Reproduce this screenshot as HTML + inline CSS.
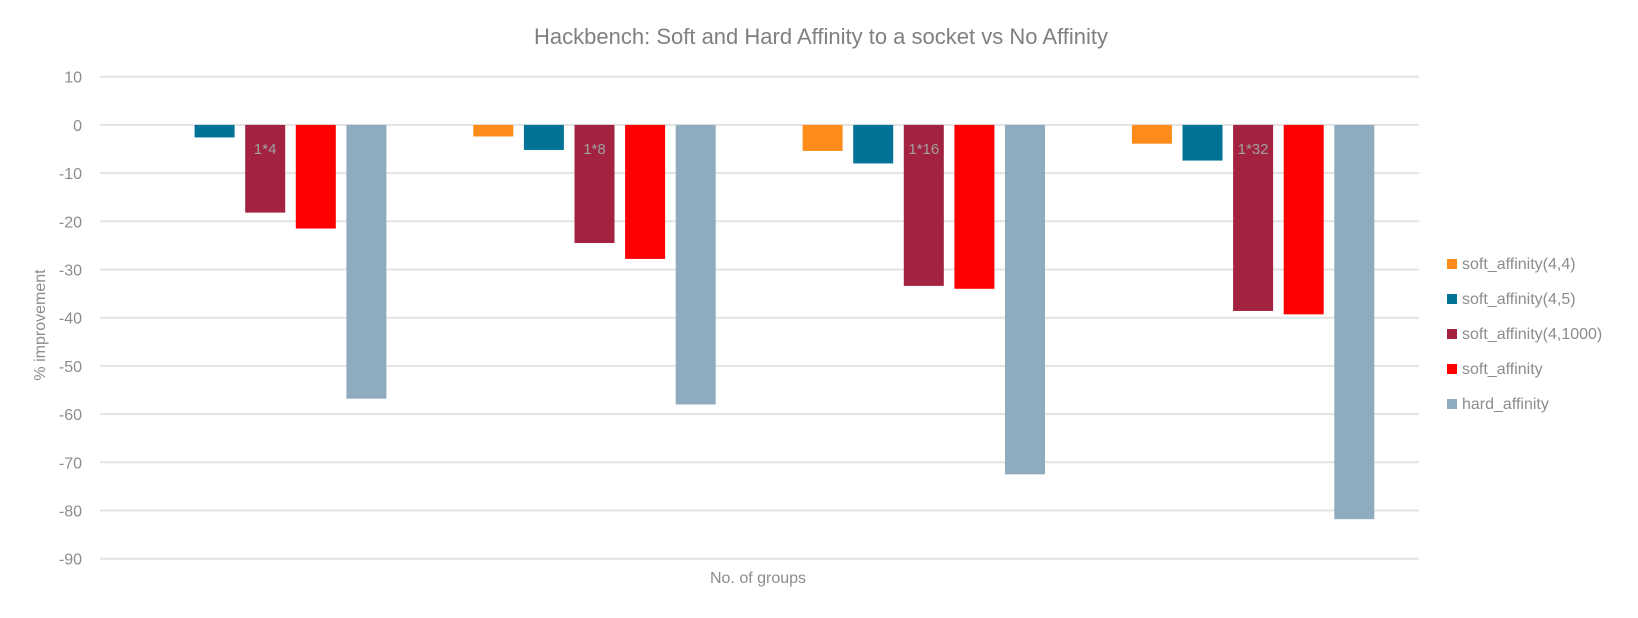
<!DOCTYPE html>
<html><head><meta charset="utf-8"><style>body{margin:0;background:#fff}</style></head><body>
<svg width="1638" height="613" xmlns="http://www.w3.org/2000/svg" font-family="Liberation Sans, sans-serif">
<rect width="1638" height="613" fill="#fff"/>
<text x="821" y="44" text-anchor="middle" font-size="22" fill="#808080">Hackbench: Soft and Hard Affinity to a socket vs No Affinity</text>
<g id="grid" stroke="#e3e3e3" stroke-width="2"></g>
<g id="ticks" font-size="16" fill="#8c8c8c" text-anchor="end"></g>
<g id="bars"></g>
<g id="labs" font-size="15" fill="#a0a0a0" text-anchor="middle"></g>
<text transform="translate(45,325) rotate(-90)" text-anchor="middle" font-size="16" fill="#8c8c8c">% improvement</text>
<text x="758" y="583" text-anchor="middle" font-size="16" fill="#8c8c8c">No. of groups</text>
<g font-size="16" fill="#8c8c8c">
<rect x="1447" y="259" width="10" height="10" fill="#ff8c1a"/><text x="1462" y="269">soft_affinity(4,4)</text>
<rect x="1447" y="294" width="10" height="10" fill="#027396"/><text x="1462" y="304">soft_affinity(4,5)</text>
<rect x="1447" y="329" width="10" height="10" fill="#a3223f"/><text x="1462" y="339">soft_affinity(4,1000)</text>
<rect x="1447" y="364" width="10" height="10" fill="#ff0000"/><text x="1462" y="374">soft_affinity</text>
<rect x="1447" y="399" width="10" height="10" fill="#8facbf"/><text x="1462" y="409">hard_affinity</text>
</g>
<script>
var ns="http://www.w3.org/2000/svg";
function el(p,t,a,txt){var e=document.createElementNS(ns,t);for(var k in a)e.setAttribute(k,a[k]);if(txt)e.textContent=txt;document.getElementById(p).appendChild(e);}
function Y(v){return 124.9-v*4.82;}
for(var v=10;v>=-90;v-=10){el("grid","line",{x1:100,x2:1419,y1:Y(v),y2:Y(v)});el("ticks","text",{x:82,y:Y(v)+6},""+v);}
var cols=["#ff8c1a","#027396","#a3223f","#ff0000","#8facbf"];
var data=[[0,-2.6,-18.2,-21.5,-56.8],[-2.4,-5.2,-24.5,-27.8,-58],[-5.4,-8,-33.4,-34,-72.5],[-3.9,-7.4,-38.6,-39.3,-81.8]];
var labs=["1*4","1*8","1*16","1*32"];
for(var g=0;g<4;g++){var o=144+g*329.3;for(var k=0;k<5;k++){var x=o+k*50.6;if(data[g][k]<0)el("bars","rect",{x:x,y:Y(0),width:40,height:Y(data[g][k])-Y(0),fill:cols[k]});}
el("labs","text",{x:o+2*50.6+20,y:154},labs[g]);}
</script>
</svg>
</body></html>
